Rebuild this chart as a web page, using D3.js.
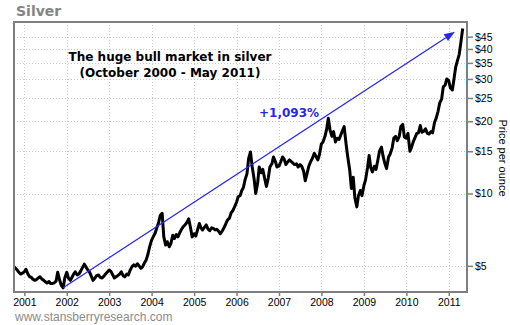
<!DOCTYPE html>
<html>
<head>
<meta charset="utf-8">
<script src="https://cdn.jsdelivr.net/npm/d3@7"></script>
<style>
  body { margin: 0; background: #fff; }
  svg { display: block; }
</style>
</head>
<body>
<svg id="chart" width="510" height="325"></svg>
<script>
// Silver spot price, sampled on the 1st and 15th of each month (USD per ounce)
const prices2000 = [4.98, 4.90, 4.80, 4.70, 4.62, 4.66]; // Oct–Dec
const prices2001 = [4.72, 4.84, 4.62, 4.50, 4.48, 4.40, 4.35, 4.38, 4.45, 4.50, 4.40, 4.36,
                    4.29, 4.24, 4.30, 4.22, 4.22, 4.25, 4.32, 4.70, 4.35, 4.15, 4.05, 4.45];
const prices2002 = [4.70, 4.45, 4.35, 4.48, 4.62, 4.72, 4.58, 4.62, 4.75, 4.90, 5.08, 4.95,
                    4.80, 4.72, 4.52, 4.35, 4.45, 4.55, 4.58, 4.48, 4.45, 4.52, 4.62, 4.70];
const prices2003 = [4.80, 4.75, 4.58, 4.45, 4.50, 4.55, 4.62, 4.72, 4.55, 4.50, 4.62, 4.58,
                    4.80, 4.95, 5.05, 4.98, 5.10, 5.00, 4.88, 4.95, 5.15, 5.28, 5.60, 6.00];
const prices2004 = [6.40, 6.60, 6.85, 7.20, 7.55, 8.10, 8.27, 6.60, 6.10, 6.30, 6.00, 6.20,
                    6.70, 6.50, 6.75, 6.60, 6.90, 7.10, 7.30, 7.40, 7.60, 7.85, 7.20, 6.60];
const prices2005 = [6.80, 6.65, 7.10, 7.50, 7.20, 7.05, 7.25, 7.40, 7.10, 7.00, 7.20, 7.16,
                    7.05, 7.10, 6.95, 6.80, 7.00, 7.20, 7.50, 7.75, 7.90, 8.30, 8.50, 8.80];
const prices2006 = [9.20, 9.70, 9.80, 10.30, 10.60, 11.40, 12.10, 14.00, 14.90, 13.00, 11.50, 10.00,
                    11.00, 12.90, 12.20, 12.60, 11.50, 10.70, 11.60, 12.90, 13.30, 14.20, 13.60, 12.90];
const prices2007 = [13.00, 13.50, 14.20, 13.90, 13.20, 13.50, 13.80, 13.60, 13.40, 13.20, 13.30, 12.90,
                    13.20, 13.00, 12.40, 11.30, 12.20, 13.00, 13.60, 14.00, 14.70, 14.30, 13.80, 14.50];
const prices2008 = [16.10, 16.40, 17.30, 18.50, 20.60, 18.40, 17.30, 18.10, 16.40, 17.00, 16.80, 17.50,
                    18.30, 19.00, 16.00, 14.20, 12.50, 10.50, 11.70, 9.60, 8.80, 9.80, 10.30, 9.80];
const prices2009 = [10.80, 11.40, 12.80, 14.40, 12.80, 12.30, 13.00, 12.60, 13.80, 15.00, 15.60, 14.30,
                    13.30, 12.70, 14.20, 14.60, 15.50, 17.00, 17.30, 16.60, 17.30, 19.00, 19.40, 17.20];
const prices2010 = [17.00, 17.80, 15.00, 15.60, 16.40, 17.00, 17.80, 17.90, 19.20, 18.00, 18.20, 18.60,
                    17.80, 17.70, 18.10, 17.90, 19.80, 20.60, 22.00, 23.80, 24.80, 27.80, 28.30, 30.00];
const prices2011 = [29.50, 27.50, 27.00, 30.00, 33.50, 35.50, 38.00, 42.50, 48.70]; // through May 1

const prices = [].concat(prices2000, prices2001, prices2002, prices2003, prices2004, prices2005,
                         prices2006, prices2007, prices2008, prices2009, prices2010, prices2011);

// Axis ticks
const yearLabels = ["2001", "2002", "2003", "2004", "2005", "2006", "2007", "2008", "2009", "2010", "2011"];
const priceTicks = [5, 10, 15, 20, 25, 30, 35, 40, 45];

// Trend arrow: from the late-2001 low to the 2011 high
const arrowFrom = { date: "2001-12-01", price: 4.05 };
const arrowTo   = { date: "2011-02-24", price: 47.2 };
const gainLabel = "+1,093%";

// ---------------------------------------------------------------------------
const series = prices.map((p, i) => ({
  date: new Date(Date.UTC(2000, 9 + Math.floor(i / 2), i % 2 ? 15 : 1)),
  price: p
}));

const svg = d3.select("#chart");
const plot = { left: 14, right: 467, top: 22, bottom: 292 };

const x = d3.scaleUtc()
  .domain([new Date(Date.UTC(2000, 9, 4)), new Date(Date.UTC(2011, 5, 7))])
  .range([plot.left, plot.right]);

const y = d3.scaleLog()
  .domain([3.89, 51.8])
  .range([plot.bottom, plot.top]);

const yearDates = yearLabels.map(s => new Date(Date.UTC(+s, 0, 1)));

svg.append("rect").attr("width", 510).attr("height", 325).attr("fill", "#fff");

// Title
svg.append("text")
  .attr("x", 16).attr("y", 15.5)
  .attr("font-family", "Verdana, 'DejaVu Sans', sans-serif")
  .attr("font-weight", "bold")
  .attr("font-size", 14)
  .attr("fill", "#858585")
  .text("Silver");

// Gridlines
const grid = svg.append("g")
  .attr("stroke", "#c9c9c9")
  .attr("stroke-width", 1)
  .attr("stroke-dasharray", "1,2");

grid.selectAll("line.v").data(yearDates).join("line")
  .attr("class", "v")
  .attr("x1", d => Math.round(x(d)) + 0.5).attr("x2", d => Math.round(x(d)) + 0.5)
  .attr("y1", plot.top).attr("y2", plot.bottom);

grid.selectAll("line.h").data(priceTicks).join("line")
  .attr("class", "h")
  .attr("y1", d => Math.round(y(d)) + 0.5).attr("y2", d => Math.round(y(d)) + 0.5)
  .attr("x1", plot.left).attr("x2", plot.right);

// Price line
svg.append("clipPath").attr("id", "plotClip")
  .append("rect")
  .attr("x", plot.left).attr("y", plot.top)
  .attr("width", plot.right - plot.left).attr("height", plot.bottom - plot.top);

const line = d3.line()
  .x(d => x(d.date))
  .y(d => y(d.price));

svg.append("path")
  .datum(series)
  .attr("clip-path", "url(#plotClip)")
  .attr("fill", "none")
  .attr("stroke", "#000")
  .attr("stroke-width", 3)
  .attr("stroke-linejoin", "round")
  .attr("d", line);

// Trend arrow
const blue = "#2626f0";
const ax1 = x(new Date(arrowFrom.date)), ay1 = y(arrowFrom.price);
const ax2 = x(new Date(arrowTo.date)),   ay2 = y(arrowTo.price);
const ang = Math.atan2(ay2 - ay1, ax2 - ax1);
const headLen = 11, headHalf = 4;
const bx = ax2 - headLen * Math.cos(ang), by = ay2 - headLen * Math.sin(ang);

svg.append("line")
  .attr("x1", ax1).attr("y1", ay1)
  .attr("x2", bx).attr("y2", by)
  .attr("stroke", blue)
  .attr("stroke-width", 1.3);

svg.append("path")
  .attr("fill", blue)
  .attr("d", d3.line()([
    [ax2, ay2],
    [bx + headHalf * Math.sin(ang), by - headHalf * Math.cos(ang)],
    [bx - headHalf * Math.sin(ang), by + headHalf * Math.cos(ang)]
  ]) + "Z");

svg.append("text")
  .attr("x", 259).attr("y", 117)
  .attr("font-family", "Verdana, 'DejaVu Sans', sans-serif")
  .attr("font-weight", "bold")
  .attr("font-size", 12)
  .attr("fill", blue)
  .text(gainLabel);

// Headline
const head = svg.append("text")
  .attr("text-anchor", "middle")
  .attr("font-family", "Verdana, 'DejaVu Sans', sans-serif")
  .attr("font-weight", "bold")
  .attr("font-size", 12)
  .attr("fill", "#000");
head.append("tspan").attr("x", 170).attr("y", 61).text("The huge bull market in silver");
head.append("tspan").attr("x", 170).attr("y", 77).text("(October 2000 - May 2011)");

// Frame
svg.append("rect")
  .attr("x", plot.left).attr("y", plot.top)
  .attr("width", plot.right - plot.left).attr("height", plot.bottom - plot.top)
  .attr("fill", "none")
  .attr("stroke", "#7f7f7f")
  .attr("stroke-width", 2);

// Right price axis
const yAxis = svg.append("g")
  .attr("transform", `translate(${plot.right},0)`)
  .call(d3.axisRight(y).tickValues(priceTicks).tickFormat(d => "$" + d).tickSize(6).tickPadding(2));
yAxis.select(".domain").remove();
yAxis.selectAll(".tick line").attr("stroke", "#7f7f7f").attr("stroke-width", 1.5);
yAxis.selectAll(".tick text")
  .attr("font-family", "Arial, 'Liberation Sans', sans-serif")
  .attr("font-size", 10.5)
  .attr("fill", "#000");

// Bottom year axis
const xAxis = svg.append("g")
  .attr("transform", `translate(0,${plot.bottom})`)
  .call(d3.axisBottom(x).tickValues(yearDates).tickFormat((d, i) => yearLabels[i]).tickSize(4).tickPadding(3));
xAxis.select(".domain").remove();
xAxis.selectAll(".tick line").attr("stroke", "#7f7f7f").attr("stroke-width", 1.5);
xAxis.selectAll(".tick text")
  .attr("font-family", "Arial, 'Liberation Sans', sans-serif")
  .attr("font-size", 10.5)
  .attr("fill", "#000");

// Right-side axis title
svg.append("text")
  .attr("transform", "translate(499,158) rotate(90)")
  .attr("text-anchor", "middle")
  .attr("font-family", "Arial, 'Liberation Sans', sans-serif")
  .attr("font-size", 11)
  .attr("fill", "#000")
  .text("Price per ounce");

// Source line
svg.append("text")
  .attr("x", 15).attr("y", 320.5)
  .attr("font-family", "Arial, 'Liberation Sans', sans-serif")
  .attr("font-size", 12)
  .attr("fill", "#8a8a8a")
  .text("www.stansberryresearch.com");
</script>
</body>
</html>
